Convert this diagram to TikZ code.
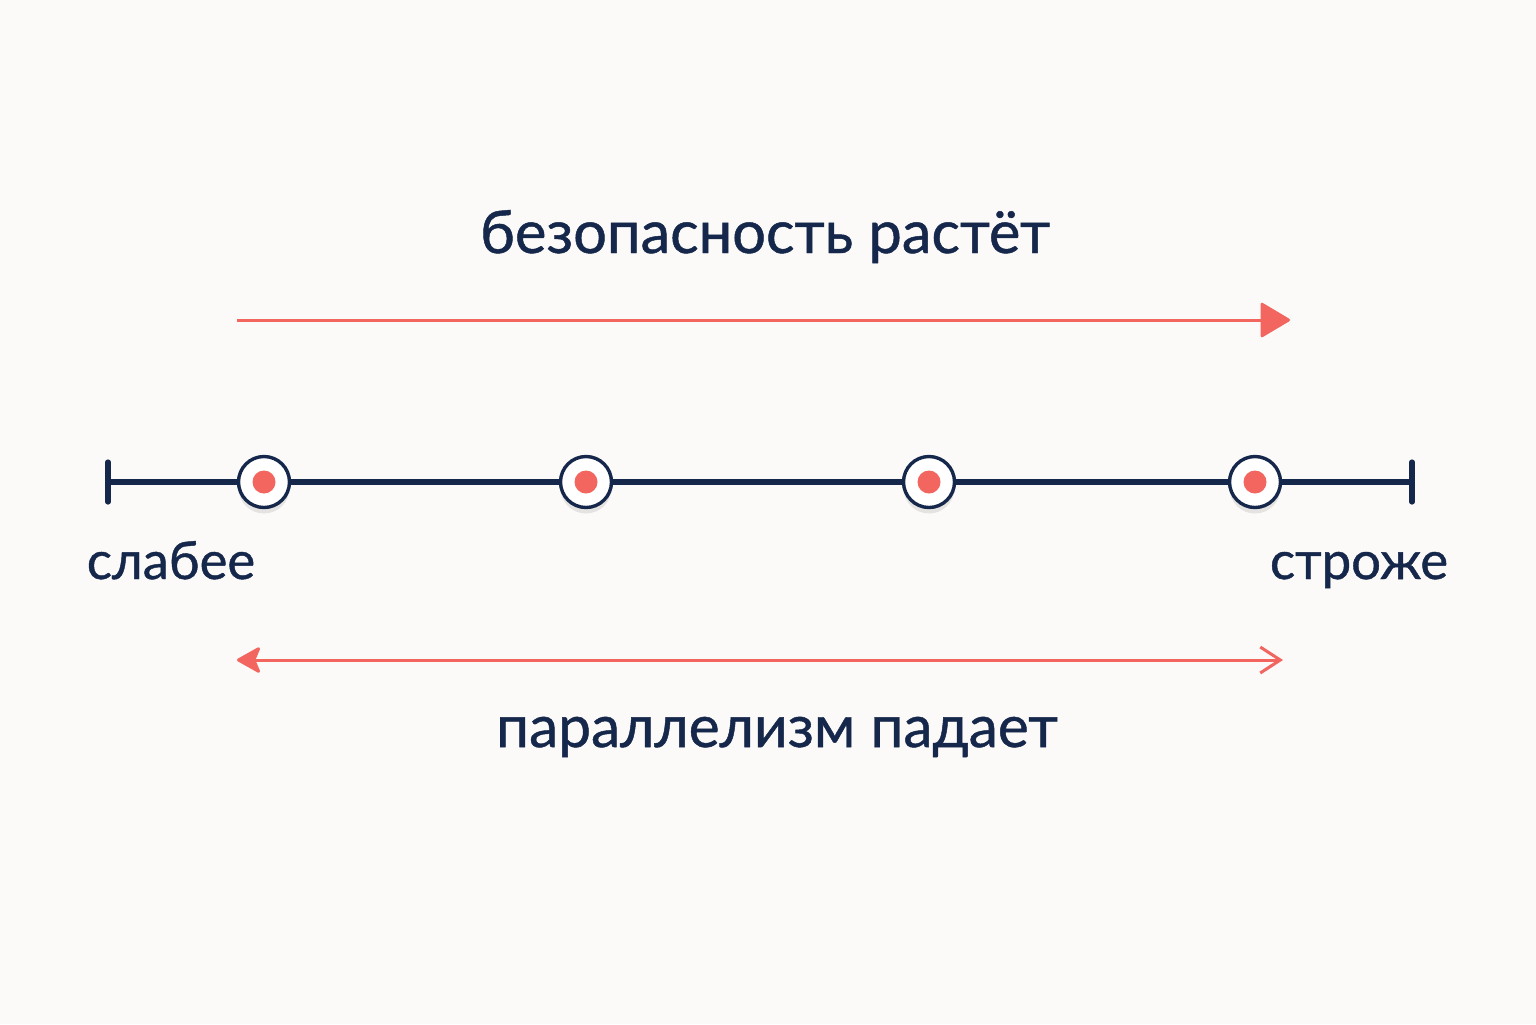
\documentclass[tikz,border=0pt]{standalone}
\usepackage{fontspec}
\setmainfont{Lato}
\newfontfamily\medfont{Lato}[FakeBold=0.8]
\usetikzlibrary{arrows.meta,shadows}
\definecolor{bgc}{HTML}{FBFAF8}
\definecolor{navy}{HTML}{15274A}
\definecolor{redc}{HTML}{F2665F}
\tikzset{
  axis/.style={draw=navy,line width=2.6pt,line cap=round},
  pointring/.style={circle,draw=navy,line width=1.7pt,fill=white,minimum size=25.5pt,inner sep=0pt,
    drop shadow={opacity=0.18,shadow xshift=0pt,shadow yshift=-3pt}},
  dotc/.style={circle,fill=redc,minimum size=11.5pt,inner sep=0pt},
  arrowline/.style={draw=redc,line width=1.5pt},
  bigtxt/.style={text=navy,anchor=base,font=\medfont\fontsize{29.8}{34}\selectfont},
  bottxt/.style={text=navy,anchor=base,font=\medfont\fontsize{29.3}{34}\selectfont},
  sidetxt/.style={text=navy,anchor=base,font=\medfont\fontsize{26.3}{30}\selectfont}
}
\begin{document}
\begin{tikzpicture}[x=0.5pt,y=-0.5pt]
\fill[bgc] (0,0) rectangle (1536,1024);
\useasboundingbox (0,0) rectangle (1536,1024);
% axis
\coordinate (L) at (108,482);
\coordinate (R) at (1412,482);
\coordinate (Lt) at (108,462);
\coordinate (Lb) at (108,502);
\coordinate (Rt) at (1412,462);
\coordinate (Rb) at (1412,502);
\draw[axis] (L) -- (R);
\draw[axis] (Lt) -- (Lb);
\draw[axis] (Rt) -- (Rb);
% points
\foreach \n/\x in {p1/264,p2/586,p3/929,p4/1255}{
  \node[pointring] (\n) at (\x,482) {};
  \node[dotc] (\n d) at (\n) {};
}
% labels
\node[sidetxt] (weak) at (171,579) {слабее};
\node[sidetxt] (strict) at (1359,579) {строже};
\node[bigtxt] (sec) at (765,253) {безопасность растёт};
\node[bottxt] (par) at (777,747) {параллелизм падает};
% arrows
\coordinate (a1) at (237,320);
\coordinate (a2) at (1290,320);
\draw[arrowline,-{Triangle[length=15.5pt,width=18pt,round]}] (a1) -- (a2);
\coordinate (b1) at (237,660);
\coordinate (b2) at (1283,660);
\draw[arrowline,{Stealth[length=13pt,width=14.5pt,inset=3pt,round]}-{Straight Barb[length=10pt,width=13pt]}] (b1) -- (b2);
\end{tikzpicture}
\end{document}
